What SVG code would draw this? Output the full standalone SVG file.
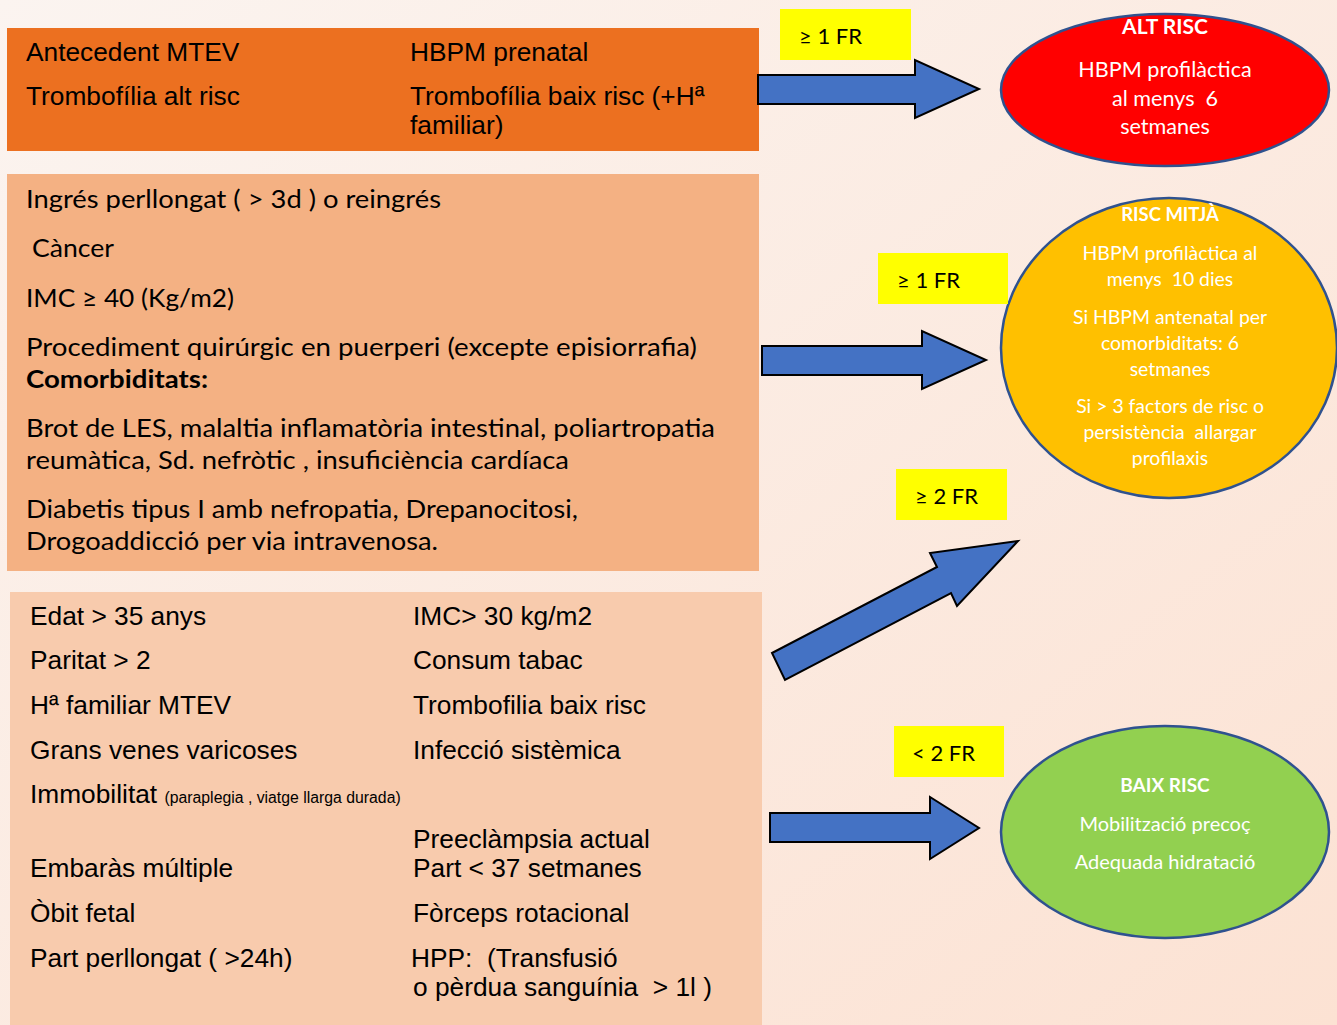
<svg xmlns="http://www.w3.org/2000/svg" width="1337" height="1025" viewBox="0 0 1337 1025">
<defs>
<linearGradient id="bg" x1="0" y1="0" x2="1" y2="1">
<stop offset="0" stop-color="#fbf4f0"/>
<stop offset="1" stop-color="#fce2d3"/>
</linearGradient>
</defs>
<style>
.a{font-family:"Liberation Sans",Arial,sans-serif;font-size:26.3px;fill:#000}
.c{font-family:Lato,"Noto Sans",sans-serif;font-size:25px;fill:#000}
.lbl{font-family:Lato,"Noto Sans",sans-serif;font-size:22px;fill:#000}
.w{font-family:Lato,"Noto Sans",sans-serif;fill:#fff;text-anchor:middle}
.b{font-weight:bold}
.arrow{fill:#4472c4;stroke:#000;stroke-width:2;stroke-linejoin:miter}
.ell{stroke:#2f528f;stroke-width:2.5}
.tag{fill:#ffff00}
</style>
<rect width="1337" height="1025" fill="url(#bg)"/>

<g id="box-high">
<rect x="7" y="28" width="752" height="123" fill="#ec7020"/>
<text class="a" x="26" y="61">Antecedent MTEV</text>
<text class="a" x="410" y="61">HBPM prenatal</text>
<text class="a" x="26" y="105">Trombofília alt risc</text>
<text class="a" x="410" y="105">Trombofília baix risc (+Hª</text>
<text class="a" x="410" y="134">familiar)</text>
</g>

<g id="box-mid">
<rect x="7" y="174" width="752" height="397" fill="#f4b183"/>
<text class="c" x="26" y="208" textLength="415" lengthAdjust="spacingAndGlyphs">Ingrés perllongat ( &gt; 3d ) o reingrés</text>
<text class="c" x="32" y="257" textLength="82" lengthAdjust="spacingAndGlyphs">Càncer</text>
<text class="c" x="26" y="307" textLength="208" lengthAdjust="spacingAndGlyphs">IMC ≥ 40 (Kg/m2)</text>
<text class="c" x="26" y="356" textLength="671" lengthAdjust="spacingAndGlyphs">Procediment quirúrgic en puerperi (excepte episiorrafia)</text>
<text class="c b" x="26" y="388" textLength="182" lengthAdjust="spacingAndGlyphs">Comorbiditats:</text>
<text class="c" x="26" y="437" textLength="689" lengthAdjust="spacingAndGlyphs">Brot de LES, malaltia inflamatòria intestinal, poliartropatia</text>
<text class="c" x="26" y="469" textLength="543" lengthAdjust="spacingAndGlyphs">reumàtica, Sd. nefròtic , insuficiència cardíaca</text>
<text class="c" x="26" y="518" textLength="552" lengthAdjust="spacingAndGlyphs">Diabetis tipus I amb nefropatia, Drepanocitosi,</text>
<text class="c" x="26" y="550" textLength="412" lengthAdjust="spacingAndGlyphs">Drogoaddicció per via intravenosa.</text>
</g>

<g id="box-low">
<rect x="10" y="592" width="752" height="433" fill="#f8cbad"/>
<text class="a" x="30" y="625">Edat &gt; 35 anys</text>
<text class="a" x="413" y="625">IMC&gt; 30 kg/m2</text>
<text class="a" x="30" y="669">Paritat &gt; 2</text>
<text class="a" x="413" y="669">Consum tabac</text>
<text class="a" x="30" y="714">Hª familiar MTEV</text>
<text class="a" x="413" y="714">Trombofilia baix risc</text>
<text class="a" x="30" y="759">Grans venes varicoses</text>
<text class="a" x="413" y="759">Infecció sistèmica</text>
<text class="a" x="30" y="803">Immobilitat <tspan font-size="15.8">(paraplegia , viatge llarga durada)</tspan></text>
<text class="a" x="413" y="848">Preeclàmpsia actual</text>
<text class="a" x="30" y="877">Embaràs múltiple</text>
<text class="a" x="413" y="877">Part &lt; 37 setmanes</text>
<text class="a" x="30" y="922">Òbit fetal</text>
<text class="a" x="413" y="922">Fòrceps rotacional</text>
<text class="a" x="30" y="967">Part perllongat ( &gt;24h)</text>
<text class="a" x="411" y="967" xml:space="preserve">HPP:  (Transfusió</text>
<text class="a" x="413" y="996" xml:space="preserve">o pèrdua sanguínia  &gt; 1l )</text>
</g>

<g id="alt-risc">
<ellipse class="ell" cx="1165" cy="90" rx="164" ry="76" fill="#ff0000"/>
<text class="w b" x="1165" y="34" font-size="21">ALT RISC</text>
<text class="w" x="1165" y="77" font-size="21.6">HBPM profilàctica</text>
<text class="w" x="1165" y="106" font-size="21.6" xml:space="preserve">al menys  6</text>
<text class="w" x="1165" y="134" font-size="21.6">setmanes</text>
</g>

<g id="risc-mitja">
<ellipse class="ell" cx="1169" cy="348" rx="168" ry="150" fill="#ffc000"/>
<text class="w b" x="1170" y="221" font-size="18.5">RISC MITJÀ</text>
<text class="w" x="1170" y="260" font-size="19.4">HBPM profilàctica al</text>
<text class="w" x="1170" y="286" font-size="19.4" xml:space="preserve">menys  10 dies</text>
<text class="w" x="1170" y="324" font-size="19.4">Si HBPM antenatal per</text>
<text class="w" x="1170" y="350" font-size="19.4">comorbiditats: 6</text>
<text class="w" x="1170" y="376" font-size="19.4">setmanes</text>
<text class="w" x="1170" y="413" font-size="19.4">Si &gt; 3 factors de risc o</text>
<text class="w" x="1170" y="439" font-size="19.4" xml:space="preserve">persistència  allargar</text>
<text class="w" x="1170" y="465" font-size="19.4">profilaxis</text>
</g>

<g id="baix-risc">
<ellipse class="ell" cx="1165" cy="832" rx="164" ry="106" fill="#92d050"/>
<text class="w b" x="1165" y="792" font-size="19">BAIX RISC</text>
<text class="w" x="1165" y="831" font-size="20">Mobilització precoç</text>
<text class="w" x="1165" y="869" font-size="20">Adequada hidratació</text>
</g>

<g id="connectors">
<polygon class="arrow" points="758,75 915,75 915,60 979,89 915,118 915,104 758,104"/>
<polygon class="arrow" points="762,346 922,346 922,331 986,360 922,389 922,375 762,375"/>
<polygon class="arrow" points="772,653 937,567 930,553 1018,541 957,606 951,593 785,680"/>
<polygon class="arrow" points="770,813 930,813 930,797 979,828 930,859 930,842 770,842"/>
</g>

<g id="labels">
<rect class="tag" x="780" y="9" width="131" height="51"/>
<text class="lbl" x="799" y="44">≥ 1 FR</text>
<rect class="tag" x="878" y="253" width="130" height="51"/>
<text class="lbl" x="897" y="288">≥ 1 FR</text>
<rect class="tag" x="896" y="469" width="111" height="51"/>
<text class="lbl" x="915" y="504">≥ 2 FR</text>
<rect class="tag" x="894" y="726" width="110" height="51"/>
<text class="lbl" x="912" y="761">&lt; 2 FR</text>
</g>
</svg>
